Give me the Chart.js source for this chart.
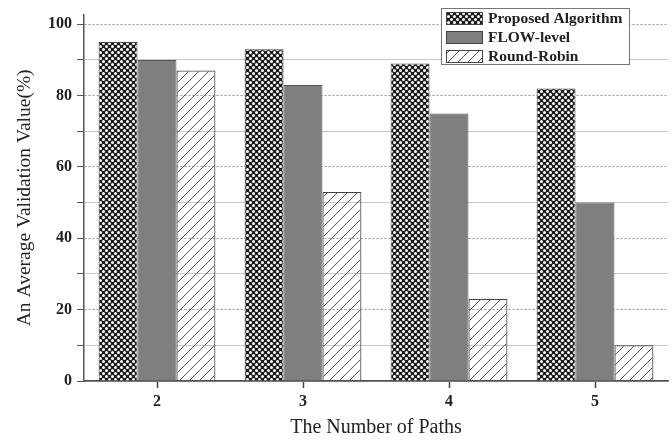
<!DOCTYPE html>
<html>
<head>
<meta charset="utf-8">
<script src="https://cdn.jsdelivr.net/npm/chart.js@4/dist/chart.umd.min.js"></script>
<style>
  html, body { margin: 0; padding: 0; background: #fff; }
  #wrap { width: 672px; height: 442px; }
</style>
</head>
<body>
<div id="wrap"><canvas id="chart" width="672" height="442"></canvas></div>
<script>
  const paths = ['2', '3', '4', '5'];
  const proposed = [95, 93, 89, 82];
  const flowLevel = [90, 83, 75, 50];
  const roundRobin = [87, 53, 23, 10];
  const yTicks = [0, 10, 20, 30, 40, 50, 60, 70, 80, 90, 100];

  const serif = '"Liberation Serif", "DejaVu Serif", serif';

  function dotPattern() {
    const c = document.createElement('canvas');
    c.width = 6; c.height = 6;
    const g = c.getContext('2d');
    g.fillStyle = '#1c1c1c';
    g.fillRect(0, 0, 6, 6);
    g.fillStyle = '#fff';
    [[1.5, 1.5], [4.5, 4.5]].forEach(p => {
      g.beginPath();
      g.arc(p[0], p[1], 1.5, 0, Math.PI * 2);
      g.fill();
    });
    return g.createPattern(c, 'repeat');
  }

  function hatchPattern() {
    const c = document.createElement('canvas');
    c.width = 10; c.height = 10;
    const g = c.getContext('2d');
    g.strokeStyle = '#555';
    g.lineWidth = 1;
    g.beginPath();
    g.moveTo(0, 10); g.lineTo(10, 0);
    g.moveTo(-1, 1); g.lineTo(1, -1);
    g.moveTo(9, 11); g.lineTo(11, 9);
    g.stroke();
    return g.createPattern(c, 'repeat');
  }

  const dots = dotPattern();
  const hatch = hatchPattern();

  // legend drawn as a box inside the plot, top right
  const boxLegend = {
    id: 'boxLegend',
    afterDraw(chart) {
      const ctx = chart.ctx;
      const x = 441, y = 8, w = 188, h = 56;
      ctx.save();
      ctx.fillStyle = '#fff';
      ctx.fillRect(x, y, w, h);
      ctx.strokeStyle = '#777';
      ctx.lineWidth = 1;
      ctx.strokeRect(x + 0.5, y + 0.5, w, h);
      ctx.font = 'bold 15.5px ' + serif;
      ctx.textBaseline = 'middle';
      chart.data.datasets.forEach((ds, i) => {
        const cy = 18 + i * 19;
        ctx.fillStyle = ds.backgroundColor;
        ctx.fillRect(446, cy - 6, 36, 12);
        ctx.strokeStyle = '#444';
        ctx.strokeRect(446.5, cy - 5.5, 36, 12);
        ctx.fillStyle = '#222';
        ctx.fillText(ds.label, 488, cy + 1);
      });
      ctx.restore();
    }
  };

  new Chart(document.getElementById('chart'), {
    type: 'bar',
    data: {
      labels: paths,
      datasets: [
        { label: 'Proposed Algorithm', data: proposed, backgroundColor: dots, borderColor: '#444', borderWidth: 1 },
        { label: 'FLOW-level', data: flowLevel, backgroundColor: '#7f7f7f', borderColor: '#555', borderWidth: 1 },
        { label: 'Round-Robin', data: roundRobin, backgroundColor: hatch, borderColor: '#444', borderWidth: 1 }
      ]
    },
    options: {
      responsive: false,
      animation: false,
      layout: { padding: { top: 3, right: 4, left: 0, bottom: 0 } },
      plugins: { legend: { display: false }, tooltip: { enabled: false } },
      datasets: { bar: { categoryPercentage: 0.8, barPercentage: 1 } },
      scales: {
        x: {
          grid: { drawOnChartArea: false, offset: false, tickLength: 7, tickColor: '#444', tickWidth: 1.5 },
          border: { color: '#555', width: 1.5 },
          ticks: { font: { family: serif, size: 16, weight: 'bold' }, color: '#222', padding: 4 },
          title: { display: true, text: 'The Number of Paths', font: { family: serif, size: 20 }, color: '#222', padding: { top: 0, bottom: 2 } },
          afterFit(scale) { scale.height = 61; }
        },
        y: {
          min: 0,
          max: 102.7,
          afterBuildTicks(scale) { scale.ticks = yTicks.map(v => ({ value: v })); },
          grid: {
            color: c => (c.tick && c.tick.value % 20 === 0) ? '#999' : '#c8c8c8',
            lineWidth: 1,
            tickLength: 7,
            tickColor: '#555'
          },
          border: {
            color: '#555',
            width: 1.5,
            dash: c => (c.tick && c.tick.value % 20 === 0 && c.tick.value > 0) ? [2, 2] : []
          },
          ticks: {
            font: { family: serif, size: 16, weight: 'bold' },
            color: '#222',
            padding: 5,
            callback: v => (v % 20 === 0 ? v : '')
          },
          title: { display: true, text: 'An Average Validation Value(%)', font: { family: serif, size: 19.5 }, color: '#222', padding: { top: 13, bottom: 0 } },
          afterFit(scale) { scale.width = 84; }
        }
      }
    },
    plugins: [boxLegend]
  });
</script>
</body>
</html>
